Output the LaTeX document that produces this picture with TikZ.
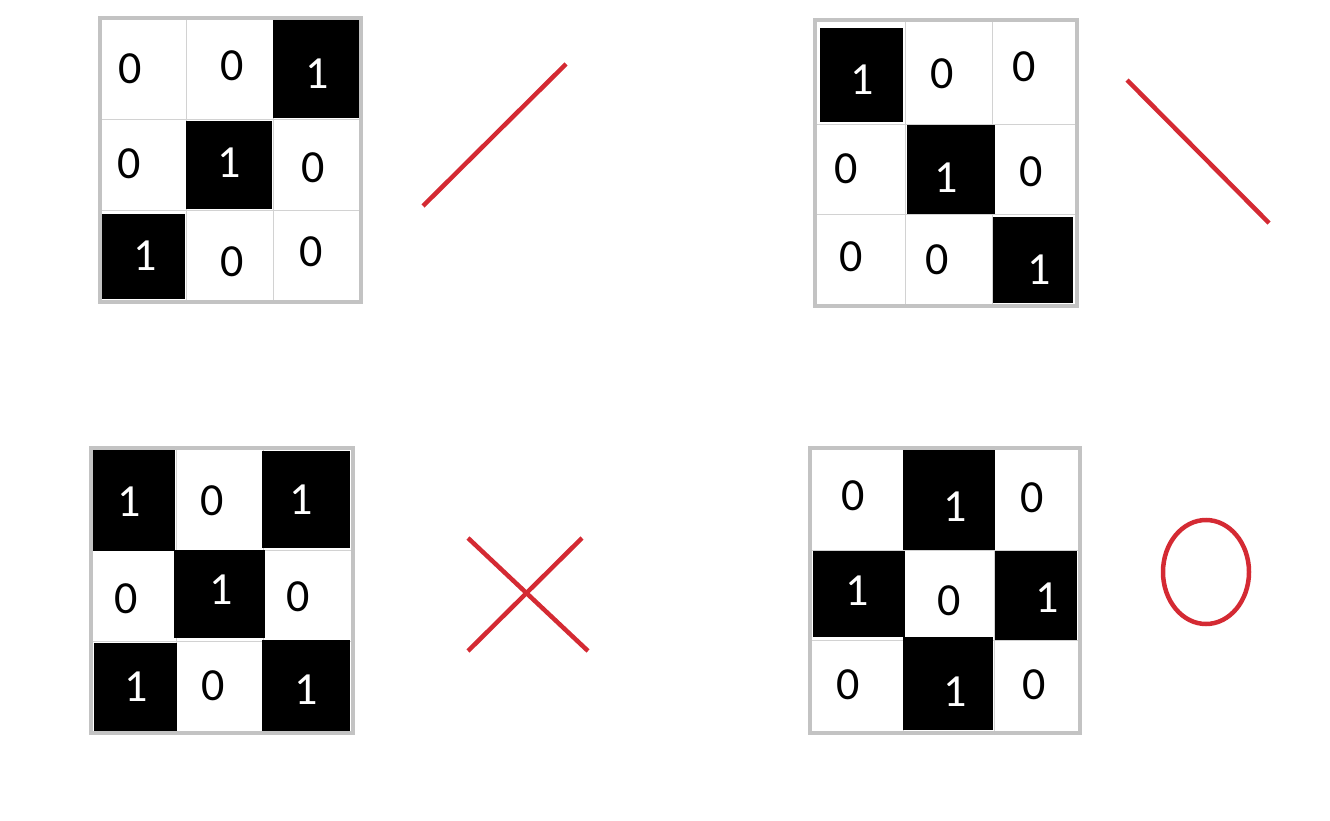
\documentclass[tikz,border=0pt]{standalone}
\usepackage{fontspec}
\newfontfamily\cellfont{Carlito}
\usepackage{tikz}
\definecolor{framegray}{HTML}{C3C3C3}
\definecolor{innergray}{HTML}{D2D2D2}
\definecolor{markred}{HTML}{D42A33}
\tikzset{
  zero/.style={anchor=center,inner sep=0pt,text=black,font=\cellfont\fontsize{46}{54}\selectfont},
  one/.style={zero,text=white},
  gridline/.style={line width=1pt,draw=innergray},
  border/.style={line width=4.5pt,draw=framegray},
  redline/.style={line width=4.5pt,draw=markred}
}

\begin{document}
\begin{tikzpicture}[x=1pt, y=-1pt, line cap=butt, line join=miter]

  %% ════ 左上：斜线 / ════
  \draw[gridline] (186,20) -- (186,300);
  \draw[gridline] (273,20) -- (273,300);
  \draw[gridline] (102,120) -- (359,120);
  \draw[gridline] (102,211) -- (359,211);
  \fill (273,20) rectangle (359,118);
  \fill (186,121) rectangle (272,209);
  \fill (102,214) rectangle (185,299);
  \draw[border] (100,18) rectangle (361,302);
  \node[zero] (a11) at (130,69) {0};
  \node[zero] (a12) at (232,66) {0};
  \node[one]  (a13) at (317,74) {1};
  \node[zero] (a21) at (129,164) {0};
  \node[one]  (a22) at (229,163) {1};
  \node[zero] (a23) at (313,168) {0};
  \node[one]  (a31) at (145,256) {1};
  \node[zero] (a32) at (232,262) {0};
  \node[zero] (a33) at (311,252) {0};
  \draw[redline] (423,206) -- (566,64);

  %% ════ 右上：斜线 \ ════
  \draw[gridline] (905,22) -- (905,304);
  \draw[gridline] (992,22) -- (992,304);
  \draw[gridline] (817,125) -- (1075,125);
  \draw[gridline] (817,215) -- (1075,215);
  \fill (820,28) rectangle (903,122);
  \fill (907,125) rectangle (995,214);
  \fill (993,217) rectangle (1073,303);
  \draw[border] (815,20) rectangle (1077,306);
  \node[one]  (b11) at (862,80) {1};
  \node[zero] (b12) at (942,74) {0};
  \node[zero] (b13) at (1024,67) {0};
  \node[zero] (b21) at (846,169) {0};
  \node[one]  (b22) at (946,178) {1};
  \node[zero] (b23) at (1031,172) {0};
  \node[zero] (b31) at (851,257) {0};
  \node[zero] (b32) at (937,260) {0};
  \node[one]  (b33) at (1039,270) {1};
  \draw[redline] (1127,80) -- (1269,223);

  %% ════ 左下：叉 X ════
  \draw[gridline] (176,450) -- (176,731);
  \draw[gridline] (263,450) -- (263,731);
  \draw[gridline] (93,550) -- (351,550);
  \draw[gridline] (93,641) -- (351,641);
  \fill (91,450) rectangle (175,551);
  \fill (174,550) rectangle (265,638);
  \fill (262,451) rectangle (350,548);
  \fill (94,643) rectangle (177,731);
  \fill (262,640) rectangle (350,731);
  \draw[border] (91,448) rectangle (353,733);
  \node[one]  (c11) at (129,502) {1};
  \node[zero] (c12) at (212,501) {0};
  \node[one]  (c13) at (301,500) {1};
  \node[zero] (c21) at (126,599) {0};
  \node[one]  (c22) at (221,590) {1};
  \node[zero] (c23) at (298,597) {0};
  \node[one]  (c31) at (136,687) {1};
  \node[zero] (c32) at (213,686) {0};
  \node[one]  (c33) at (306,690) {1};
  \draw[redline] (468,538) -- (588,651);
  \draw[redline] (468,651) -- (582,538);

  %% ════ 右下：圈 O ════
  \draw[gridline] (903,450) -- (903,731);
  \draw[gridline] (994,450) -- (994,731);
  \draw[gridline] (812,550) -- (1078,550);
  \draw[gridline] (812,640) -- (1078,640);
  \fill (903,448) rectangle (995,550);
  \fill (813,551) rectangle (905,637);
  \fill (995,551) rectangle (1077,640);
  \fill (903,637) rectangle (993,730);
  \draw[border] (810,448) rectangle (1080,733);
  \node[zero] (d11) at (853,496) {0};
  \node[one]  (d12) at (955,507) {1};
  \node[zero] (d13) at (1032,498) {0};
  \node[one]  (d21) at (857,591) {1};
  \node[zero] (d22) at (949,601) {0};
  \node[one]  (d23) at (1047,598) {1};
  \node[zero] (d31) at (848,685) {0};
  \node[one]  (d32) at (955,692) {1};
  \node[zero] (d33) at (1034,685) {0};
  \draw[redline] (1206,572) ellipse (43 and 52);

  % 钉死画布
  \pgfresetboundingbox
  \path[use as bounding box] (0,0) rectangle (1330,821);
\end{tikzpicture}
\end{document}
